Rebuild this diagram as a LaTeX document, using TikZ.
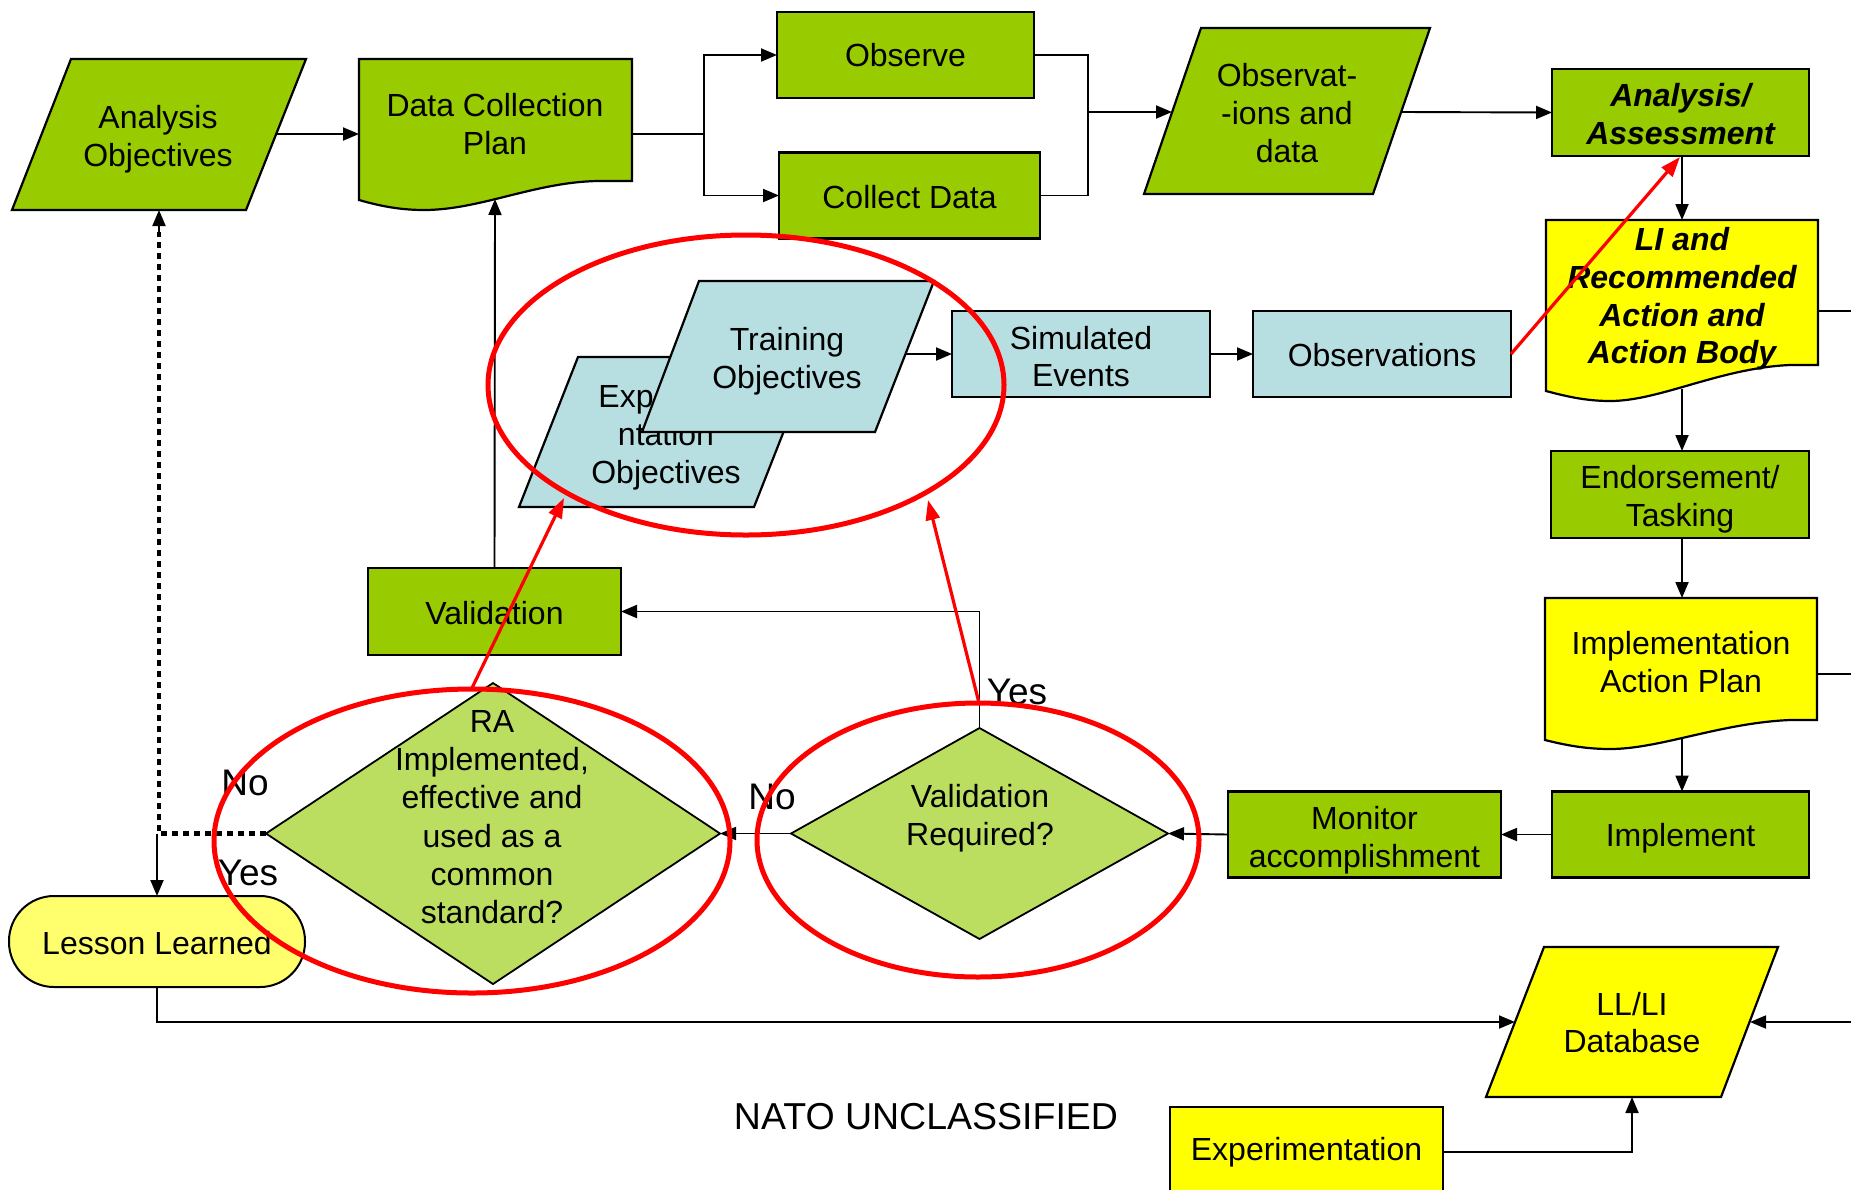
\documentclass[tikz,border=0pt]{standalone}
\usepackage{fontspec}
\setmainfont{Liberation Sans}
\usetikzlibrary{arrows.meta,shapes.geometric}
\definecolor{gr}{HTML}{99CC00}
\definecolor{lb}{HTML}{B7DEE1}
\definecolor{yl}{HTML}{FFFF00}
\definecolor{dg}{RGB}{188,222,96}
\definecolor{ly}{RGB}{255,255,110}
\begin{document}
\begin{tikzpicture}[x=1pt,y=-1pt,
  every node/.style={font=\fontsize{32}{37.8}\selectfont, align=center, inner sep=0pt, outer sep=0pt},
  bx/.style={draw=black, line width=2.2pt, rectangle},
  shp/.style={draw=black, line width=2.2pt},
  ln/.style={draw=black, line width=1.9pt},
  arr/.style={draw=black, line width=1.9pt, -{Triangle[length=16pt,width=13pt]}},
  dotl/.style={draw=black, line width=4.5pt, dash pattern=on 6pt off 5pt},
  redc/.style={draw=red, line width=5pt},
  reda/.style={draw=red, line width=3.2pt, -{Triangle[length=20pt,width=14pt]}},
  bi/.style={font=\fontsize{32}{37.8}\selectfont\bfseries\itshape},
  lab/.style={font=\fontsize{37}{40}\selectfont}
]
\useasboundingbox (0,0) rectangle (1851,1189);
\clip (0,0) rectangle (1851,1189);
\fill[white] (0,0) rectangle (1851,1189);

% ---------- top row ----------
\draw[shp, fill=gr] (71,59) -- (306,59) -- (246,210) -- (12,210) -- cycle;
\node (ao) at (158,139.5) {Analysis\\Objectives};
\coordinate (aoE) at (276,134);
\coordinate (aoB) at (159,210);

\draw[shp, fill=gr] (359,59) -- (632,59) -- (632,181) -- (598,181)
  .. controls (535,182) and (480,210) .. (424,210)
  .. controls (400,210) and (380,206) .. (359,200) -- cycle;
\node (dcp) at (495,124) {Data Collection\\Plan};
\coordinate (dcpW) at (359,134);
\coordinate (dcpE) at (632,134);
\coordinate (dcpB) at (495,199);

\node[bx, fill=gr, minimum width=257pt, minimum height=86pt] (observe) at (905.5,55) {};
\node (observeT) at (905.5,55) {Observe};
\node[bx, fill=gr, minimum width=261pt, minimum height=86pt] (collect) at (909.5,195.5) {};
\node (collectT) at (909.5,197.5) {Collect Data};

\draw[shp, fill=gr] (1201,28) -- (1430,28) -- (1373,194) -- (1144,194) -- cycle;
\node (obsd) at (1287,113) {Observat-\\-ions and\\data};
\coordinate (obsdW) at (1172,112);
\coordinate (obsdE) at (1401,112);

\node[bx, fill=gr, minimum width=257pt, minimum height=87pt] (aa) at (1680.5,112.5) {};
\node[bi] (aaT) at (1680.5,114) {Analysis/\\Assessment};

% ---------- right column ----------
\draw[shp, fill=yl] (1546,220) -- (1818,220) -- (1818,365) -- (1790,365)
  .. controls (1720,368) and (1660,401) .. (1610,401)
  .. controls (1585,401) and (1565,396) .. (1546,391) -- cycle;
\node[bi] (li) at (1682,299) {LI and\\Recommended\\Action and\\Action Body};
\coordinate (liT) at (1682,220);
\coordinate (liB) at (1682,389);
\coordinate (liE) at (1818,311);

\node[bx, fill=gr, minimum width=258pt, minimum height=87pt] (endo) at (1680,494.5) {};
\node (endoT) at (1680,499) {Endorsement/\\Tasking};

\draw[shp, fill=yl] (1545,598) -- (1817,598) -- (1817,720) -- (1790,720)
  .. controls (1720,723) and (1660,749) .. (1610,749)
  .. controls (1585,749) and (1565,745) .. (1545,740) -- cycle;
\node (iap) at (1681,662) {Implementation\\Action Plan};
\coordinate (iapT) at (1682,598);
\coordinate (iapB) at (1682,737);
\coordinate (iapE) at (1817,674);

\node[bx, fill=gr, minimum width=257pt, minimum height=86pt] (impl) at (1680.5,834.5) {};
\node (implT) at (1680.5,838) {Implement};
\node[bx, fill=gr, minimum width=273pt, minimum height=86pt] (mon) at (1364.5,834.5) {};
\node (monT) at (1364.5,840.5) {Monitor\\accomplishment};

% ---------- middle row ----------
\draw[shp, fill=lb] (578,357) -- (813,357) -- (754,507) -- (519,507) -- cycle;
\node (expo) at (666,437) {Experime\\ntation\\Objectives};
\draw[shp, fill=lb] (699,281) -- (934,281) -- (875,432) -- (642,432) -- cycle;
\node (train) at (787,361) {Training\\Objectives};
\coordinate (trE) at (905,354);
\coordinate (expoB) at (564,498);
\coordinate (trB) at (928,500);

\node[bx, fill=lb, minimum width=258pt, minimum height=86pt] (se) at (1081,354) {};
\node (seT) at (1081,356.5) {Simulated\\Events};
\node[bx, fill=lb, minimum width=258pt, minimum height=86pt] (obs) at (1382,354) {};
\node (obsT) at (1382,355.5) {Observations};

% ---------- decisions ----------
\node[bx, fill=gr, minimum width=253pt, minimum height=87pt] (val) at (494.5,611.5) {};
\node (valT) at (494.5,613) {Validation};

\node[diamond, draw=black, line width=1.8pt, fill=dg, minimum width=454pt, minimum height=301pt] (ra) at (493,833.5) {};
\node[font=\fontsize{32}{38.3}\selectfont] (rat) at (492,817) {RA\\Implemented,\\effective and\\used as a\\common\\standard?};
\node[diamond, draw=black, line width=1.8pt, fill=dg, minimum width=377pt, minimum height=211pt] (vr) at (979.5,833.5) {};
\node (vrt) at (980,818.5) {Validation\\Required?};

\node[draw=black, line width=2pt, fill=ly, rounded corners=45pt, minimum width=296pt, minimum height=91pt] (ll) at (157,941.5) {};
\node (llT) at (157,943) {Lesson Learned};

% ---------- bottom ----------
\draw[shp, fill=yl] (1544,947) -- (1778,947) -- (1721,1097) -- (1486,1097) -- cycle;
\node (db) at (1632,1022.5) {LL/LI\\Database};
\coordinate (dbW) at (1515,1022);
\coordinate (dbE) at (1750,1022);
\coordinate (dbB) at (1632,1097);
\coordinate (rimD) at (1851,1022);

\node[bx, fill=yl, minimum width=273pt, minimum height=90pt] (expm) at (1306.5,1152) {};
\node (expmT) at (1306.5,1152) {Experimentation};
\node[font=\fontsize{37.5}{42}\selectfont] (nato) at (926,1117) {NATO UNCLASSIFIED};

% ---------- connectors ----------
\draw[arr] (aoE) -- (dcpW);
\coordinate (br) at (704,134);
\draw[ln] (dcpE) -- (br);
\draw[arr] (br) |- (observe.west);
\draw[arr] (br) |- (collect.west);
\coordinate (mg) at (1088,112);
\draw[ln] (observe.east) -| (mg) |- (collect.east);
\draw[arr] (mg) -- (obsdW);
\draw[arr] (obsdE) -- (aa.west);
\draw[arr] (aa.south -| liT) -- (liT);
\draw[arr] (liB) -- (liB |- endo.north);
\draw[arr] (endo.south -| iapT) -- (iapT);
\draw[arr] (iapB) -- (iapB |- impl.north);
\coordinate (rimA) at (1851,311);
\coordinate (rimB) at (1851,674);
\draw[ln] (liE) -- (rimA);
\draw[ln] (iapE) -- (rimB);
\draw[arr] (impl.west) -- (mon.east);
\draw[arr] (mon.west) -- (vr.east);
\draw[arr] (vr.west) -- (ra.east);
\draw[arr] (vr.north) |- (val.east);
\draw[arr] (val.north) -- (dcpB);
\draw[arr] (trE) -- (se.west);
\draw[arr] (se.east) -- (obs.west);

\coordinate (jn) at (159,833.5);
\draw[dotl] (ra.west) -- (jn) -- (159,232);
\draw[arr] (159,236) -- (aoB);
\draw[arr] (157,833.5) -- (ll.north);
\draw[arr] (ll.south) |- (dbW);
\draw[arr] (rimD) -- (dbE);
\draw[arr] (expm.east) -| (dbB);

% labels
\node[lab] (yes1) at (1017,692) {Yes};
\node[lab] (no1) at (772,797) {No};
\node[lab] (no2) at (245,783) {No};
\node[lab] (yes2) at (248,873) {Yes};

% ---------- red annotations ----------
\draw[redc] (746,385) ellipse [x radius=258, y radius=150];
\draw[redc] (472,841) ellipse [x radius=258, y radius=152];
\draw[redc] (978,840) ellipse [x radius=221, y radius=137];
\coordinate (r1) at (472,688);
\coordinate (r2) at (979,703);
\coordinate (r3) at (1511,354);
\coordinate (aaB) at (1680,157);
\draw[reda] (r1) -- (expoB);
\draw[reda] (r2) -- (trB);
\draw[reda] (r3) -- (aaB);
\end{tikzpicture}
\end{document}
